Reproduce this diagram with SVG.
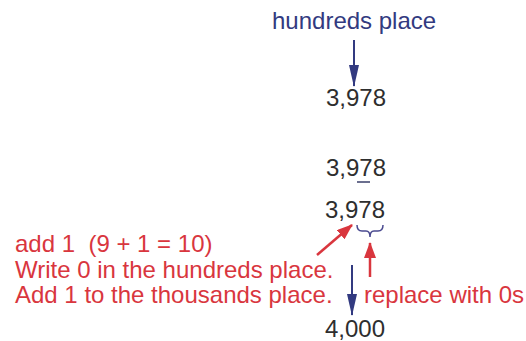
<svg xmlns="http://www.w3.org/2000/svg" width="526" height="341" viewBox="0 0 526 341">
<defs>
<style>
text{font-family:"Liberation Sans",Arial,sans-serif;font-size:24px;white-space:pre}
.num{fill:#2e2e2e}
.navy{fill:#323a80}
.red{fill:#d9363e}
.ln-navy{stroke:#323a80;stroke-width:2;fill:none}
.ln-red{stroke:#d9363e;stroke-width:2.5;fill:none}
</style>
<marker id="hn" markerUnits="userSpaceOnUse" markerWidth="22" markerHeight="10" refX="21" refY="5" orient="auto" viewBox="0 0 22 10">
<path d="M0,0 L22,5 L0,10 Z" fill="#323a80"/>
</marker>
<marker id="hr" markerUnits="userSpaceOnUse" markerWidth="16" markerHeight="12" refX="15" refY="6" orient="auto" viewBox="0 0 16 12">
<path d="M0,0 L16,6 L0,12 Z" fill="#d9363e"/>
</marker>
</defs>
<rect width="526" height="341" fill="#ffffff"/>
<g id="label-hundreds"><text class="navy" x="272" y="29">hundreds place</text></g>
<g id="num1"><text class="num" x="326" y="106">3,978</text></g>
<g id="num2"><text class="num" x="326" y="176">3,978</text><line x1="357" y1="182" x2="370" y2="182" stroke="#3a3f6a" stroke-width="1.5"/></g>
<g id="num3"><text class="num" x="325" y="218">3,978</text></g>
<g id="brace"><path d="M357,225 Q357,231 362,231 L366,231 Q370,231 370,237 Q370,231 374,231 L378,231 Q383,231 383,225" stroke="#4a4a90" stroke-width="1.5" fill="none"/></g>
<g id="note-left">
<text class="red" x="15" y="252" xml:space="preserve">add 1  (9 + 1 = 10)</text>
<text class="red" x="15" y="278">Write 0 in the hundreds place.</text>
<text class="red" x="15" y="303">Add 1 to the thousands place.</text>
</g>
<g id="note-right"><text class="red" x="364" y="303">replace with 0s</text></g>
<g id="num4"><text class="num" x="325" y="337">4,000</text></g>
<g id="connectors">
<line class="ln-navy" x1="354" y1="40" x2="354" y2="86" marker-end="url(#hn)"/>
<line class="ln-navy" x1="352" y1="265" x2="352" y2="315" marker-end="url(#hn)"/>
<line class="ln-red" x1="317" y1="255" x2="352" y2="225" marker-end="url(#hr)"/>
<line class="ln-red" x1="370" y1="277" x2="370" y2="243" marker-end="url(#hr)"/>
</g>
</svg>
